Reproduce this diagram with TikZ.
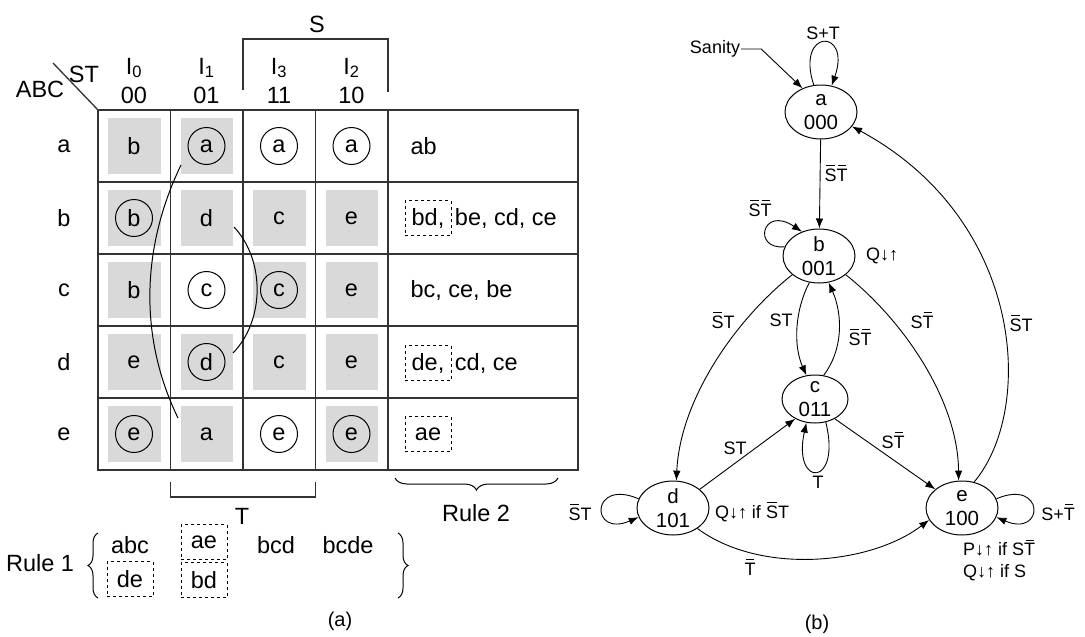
\documentclass[tikz,border=0pt]{standalone}
\usepackage{fontspec}
\setmainfont{Liberation Sans}
\usetikzlibrary{shapes.geometric,decorations.pathreplacing,arrows.meta}
\newlength\nbw
\newcommand\nb[1]{\settowidth\nbw{#1}\makebox[0pt][l]{\hspace{.12\nbw}\rule[.84em]{.76\nbw}{.06em}}#1}
\newcommand\kmapfont{\fontsize{23.5}{27}\selectfont}
\newcommand\fsmfont{\fontsize{18}{22}\selectfont}

\begin{document}
\begin{tikzpicture}[x=1pt,y=-1pt,
  every node/.style={font=\kmapfont},
  tabline/.style={line width=1.3pt,black!80},
  cellshade/.style={fill=black!15},
  ring/.style={circle,draw,line width=1pt,minimum size=37pt,inner sep=0pt},
  dbox/.style={draw,dashed,line width=.8pt,minimum width=46pt,minimum height=35pt,inner sep=1pt},
  fsm/.style={ellipse,draw,line width=1pt,minimum width=72pt,minimum height=54pt,inner sep=-6pt,align=center,font=\fontsize{20.5}{24}\selectfont},
  trans/.style={-{Latex[length=10pt,width=7.5pt]},line width=.9pt},
  lbl/.style={font=\fsmfont,inner sep=1pt}]
  \useasboundingbox (0,0) rectangle (1085,637);

  % K-map (a)
  \foreach \cx/\ry in {1/1,2/1,1/2,2/2,3/2,4/2,1/3,3/3,4/3,1/4,2/4,3/4,4/4,1/5,2/5,4/5}
    \fill[cellshade] ({98+72.5*(\cx-1)+10},{110+72*(\ry-1)+8}) rectangle ++(52.5,56);
  \draw[tabline] (98,110) rectangle (578,470);
  \foreach \x in {170.5,243,315.5,388} \draw[tabline] (\x,110) -- (\x,470);
  \foreach \y in {182,254,326,398} \draw[tabline] (98,\y) -- (578,\y);

  \node (abc) at (40,89) {ABC};
  \node (st) at (84,74) {ST};
  \draw[tabline] (53,63) -- (98,110);
  \foreach \i/\x/\n/\b in {0/134/0/00,1/206.5/1/01,2/279/3/11,3/351.5/2/10}{
    \node (ih\i) at (\x,68) {I\textsubscript{\n}};
    \node (bh\i) at (\x,95) {\b};
  }
  \draw[tabline] (243,90) -- (243,39) -- (388,39) -- (388,92);
  \node (s) at (317,24) {S};
  \foreach \ry/\t in {1/a,2/b,3/c,4/d,5/e}
    \node (row\t) at (64,{146+72*(\ry-1)}) {\t};

  \foreach \cx/\ry/\t in {1/1/b,2/2/d,3/2/c,4/2/e,1/3/b,4/3/e,1/4/e,3/4/c,4/4/e,2/5/a}
    \node (k\cx\ry) at ({134+72.5*(\cx-1)},{146+72*(\ry-1)}) {\t};
  \foreach \cx/\ry/\t in {2/1/a,3/1/a,4/1/a,1/2/b,2/3/c,3/3/c,2/4/d,1/5/e,3/5/e,4/5/e}
    \node[ring] (k\cx\ry) at ({134+72.5*(\cx-1)},{146+72*(\ry-1)}) {\t};
  \draw[line width=1pt] (181,165) .. controls (140,250) and (140,340) .. (178,418);
  \draw[line width=1pt] (234,227) .. controls (265,260) and (265,320) .. (233,353);

  \node[anchor=west] (r2a) at (407,146) {ab};
  \node[dbox] (r2b) at (428,218) {bd,};
  \node[anchor=west] (r2bb) at (r2b.east) {be, cd, ce};
  \node[anchor=west] (r2c) at (407,290) {bc, ce, be};
  \node[dbox] (r2d) at (428,363) {de,};
  \node[anchor=west] (r2dd) at (r2d.east) {cd, ce};
  \node[dbox] (r2e) at (428,434) {ae};

  \draw[tabline] (170.5,482) -- (170.5,497) -- (315.5,497) -- (315.5,482);
  \node (tl) at (242,516) {T};
  \draw[line width=1pt,decorate,decoration={brace,mirror,amplitude=12pt}] (395,478) -- (558,478);
  \node (rule2) at (476,513) {Rule 2};

  \node (rule1) at (40,563) {Rule 1};
  \draw[line width=1pt,decorate,decoration={brace,amplitude=10pt}] (98,598) -- (98,533);
  \draw[line width=1pt,decorate,decoration={brace,amplitude=10pt}] (398,533) -- (398,598);
  \node (abc1) at (130,545) {abc};
  \node[dbox] (de1) at (130,579) {de};
  \node[dbox] (ae1) at (204,542) {ae};
  \node[dbox] (bd1) at (204,580) {bd};
  \node (bcd1) at (276,545) {bcd};
  \node (bcde1) at (348,545) {bcde};
  \node[font=\fontsize{20}{24}\selectfont] (capa) at (340,621) {(a)};

  % state diagram (b)
  \node[fsm] (a) at (821,112) {a\\000};
  \node[fsm] (b) at (819,256) {b\\001};
  \node[fsm,minimum width=66pt,minimum height=48pt] (c) at (815,399) {c\\011};
  \node[fsm] (d) at (673,508) {d\\101};
  \node[fsm] (e) at (962,508) {e\\100};

  \node[lbl] (san) at (715,49) {Sanity};
  \draw[trans] (san.east) -- ++(20,0) -- (a.128);
  \draw[trans] (a.105) .. controls (795,28) and (852,28) .. (a.68);
  \node[lbl] (lst) at (823,33) {S+T};
  \draw[trans] (a) -- (b) node[lbl,pos=.38,right=3pt] (lab) {\nb{S}\nb{T}};

  \draw[trans] (b.165) .. controls (752,250) and (762,205) .. (b.125);
  \node[lbl] (lbb) at (760,208) {\nb{S}\nb{T}};
  \node[lbl] (qb) at (882,256) {Q↓↑};
  \draw[trans] (b.250) .. controls (795,310) and (793,345) .. (c.110);
  \node[lbl] (lbc) at (781,320) {ST};
  \draw[trans] (c.70) .. controls (843,350) and (843,315) .. (b.290);
  \node[lbl] (lcb) at (860,337) {\nb{S}\nb{T}};
  \draw[trans] (b.215) .. controls (735,320) and (680,400) .. (d.83);
  \node[lbl] (lbd) at (723,320) {\nb{S}T};
  \draw[trans] (b.-35) .. controls (903,320) and (958,400) .. (e.97);
  \node[lbl] (lbe) at (922,320) {S\nb{T}};

  \draw[trans] (d.35) -- (c.225);
  \node[lbl] (ldc) at (735,448) {ST};
  \draw[trans] (c.-45) -- (e.145);
  \node[lbl] (lce) at (893,440) {S\nb{T}};
  \draw[trans] (c.-65) .. controls (842,488) and (792,488) .. (c.-110);
  \node[lbl] (lcc) at (818,482) {T};

  \draw[trans] (d.165) .. controls (590,478) and (590,538) .. (d.195);
  \node[lbl] (ldd) at (580,512) {\nb{S}T};
  \node[lbl] (qd) at (752,512) {Q↓↑ if \nb{S}T};
  \draw[trans] (d.-40) .. controls (760,575) and (870,565) .. (e.200);
  \node[lbl] (lde) at (750,567) {\nb{T}};

  \draw[trans] (e.15) .. controls (1045,478) and (1045,538) .. (e.-15);
  \node[lbl] (lee) at (1058,512) {S+\nb{T}};
  \node[lbl,anchor=west] (pe) at (962,548) {P↓↑ if S\nb{T}};
  \node[lbl,anchor=west] (qe) at (962,573) {Q↓↑ if S};
  \draw[trans] (e.65) .. controls (1035,410) and (1025,220) .. (a.-25);
  \node[lbl] (lea) at (1021,323) {\nb{S}T};
  \node[font=\fontsize{20}{24}\selectfont] (capb) at (817,624) {(b)};
\end{tikzpicture}
\end{document}
